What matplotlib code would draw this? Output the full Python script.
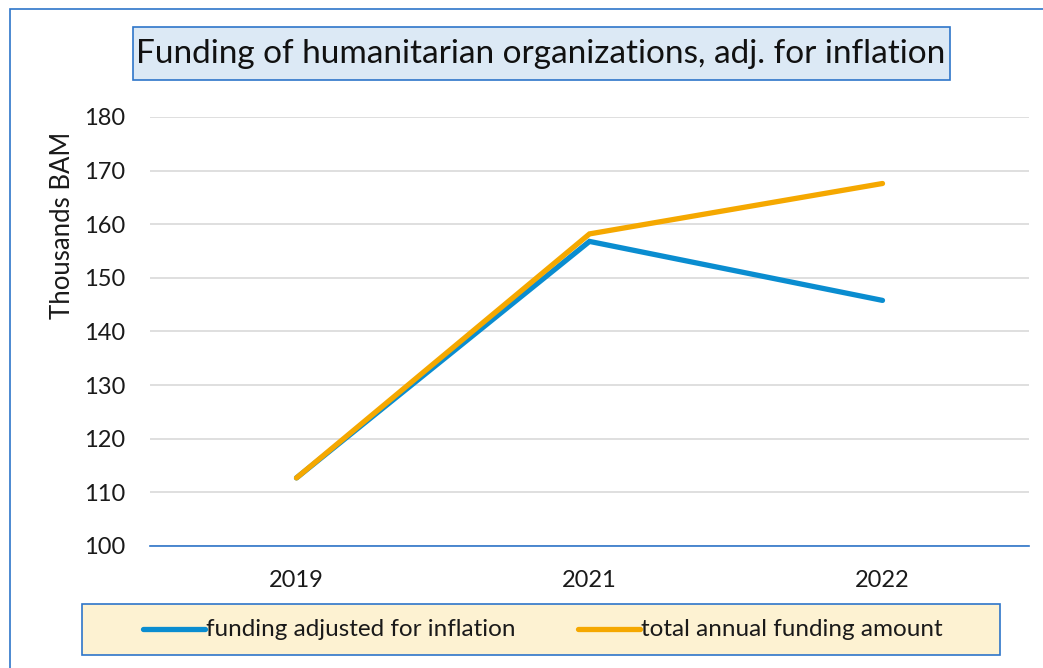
import matplotlib
matplotlib.use("Agg")
import matplotlib.pyplot as plt
from matplotlib.patches import Rectangle
from matplotlib.lines import Line2D

years = ["2019", "2021", "2022"]
adjusted = [112.7, 156.8, 145.8]
total = [112.7, 158.2, 167.6]
yticks = [100, 110, 120, 130, 140, 150, 160, 170, 180]
series_names = ["funding adjusted for inflation", "total annual funding amount"]

W, H = 1043, 668
fig = plt.figure(figsize=(W / 100, H / 100), dpi=100)
plt.rcParams['font.family'] = ['Lato', 'DejaVu Sans']

blue = "#0a8dd0"
orange = "#f5a800"
edge = "#2e75c9"
txt = "#1a1a1a"

# outer frame
fig.patches.append(Rectangle((10 / W, -0.1), 1.2, 1 - 9 / H + 0.1, transform=fig.transFigure,
                             fill=False, edgecolor=edge, linewidth=1.2))

ax = fig.add_axes([150 / W, 1 - 546 / H, 879 / W, (546 - 117) / H])
x = range(len(years))
ax.plot(x, adjusted, color=blue, linewidth=3.8, solid_capstyle='round', solid_joinstyle='miter', zorder=3)
ax.plot(x, total, color=orange, linewidth=3.8, solid_capstyle='round', solid_joinstyle='miter', zorder=4)
ax.set_xlim(-0.5, 2.5)
ax.set_ylim(100, 180)
ax.set_yticks(yticks)
ax.set_xticks(list(x))
ax.set_xticklabels(years)
ax.grid(axis='y', color='#d9d9d9', linewidth=1.2)
ax.set_axisbelow(True)
for s in ['top', 'right', 'left']:
    ax.spines[s].set_visible(False)
ax.spines['bottom'].set_color(edge)
ax.spines['bottom'].set_linewidth(1.2)
ax.tick_params(axis='both', length=0, labelsize=17, colors=txt)
ax.tick_params(axis='y', pad=18)
ax.tick_params(axis='x', pad=17)
fig.text(62 / W, 1 - 225 / H, "Thousands BAM", rotation=90, ha='center', va='center',
         fontsize=18.5, color=txt)

# title box
fig.patches.append(Rectangle((133 / W, 1 - 80 / H), (950 - 133) / W, 53 / H, transform=fig.transFigure,
                             facecolor='#dce9f5', edgecolor=edge, linewidth=1.2))
fig.text(541 / W, 1 - 54 / H, "Funding of humanitarian organizations, adj. for inflation",
         ha='center', va='center', fontsize=24, color='#111111')

# legend box
fig.patches.append(Rectangle((82 / W, 1 - 655 / H), (1000 - 82) / W, 51 / H, transform=fig.transFigure,
                             facecolor='#fdf2d2', edgecolor=edge, linewidth=1.2))
leg_y = 1 - 629 / H
for (x0, x1), col, name in zip([(143, 205), (578, 640)], [blue, orange], series_names):
    fig.lines.append(Line2D([x0 / W, x1 / W], [leg_y, leg_y], transform=fig.transFigure,
                            color=col, linewidth=3.8, solid_capstyle='round'))
    fig.text((x1 + 1) / W, leg_y, name, ha='left', va='center', fontsize=17.5, color=txt)

fig.savefig("out.png", dpi=100)
